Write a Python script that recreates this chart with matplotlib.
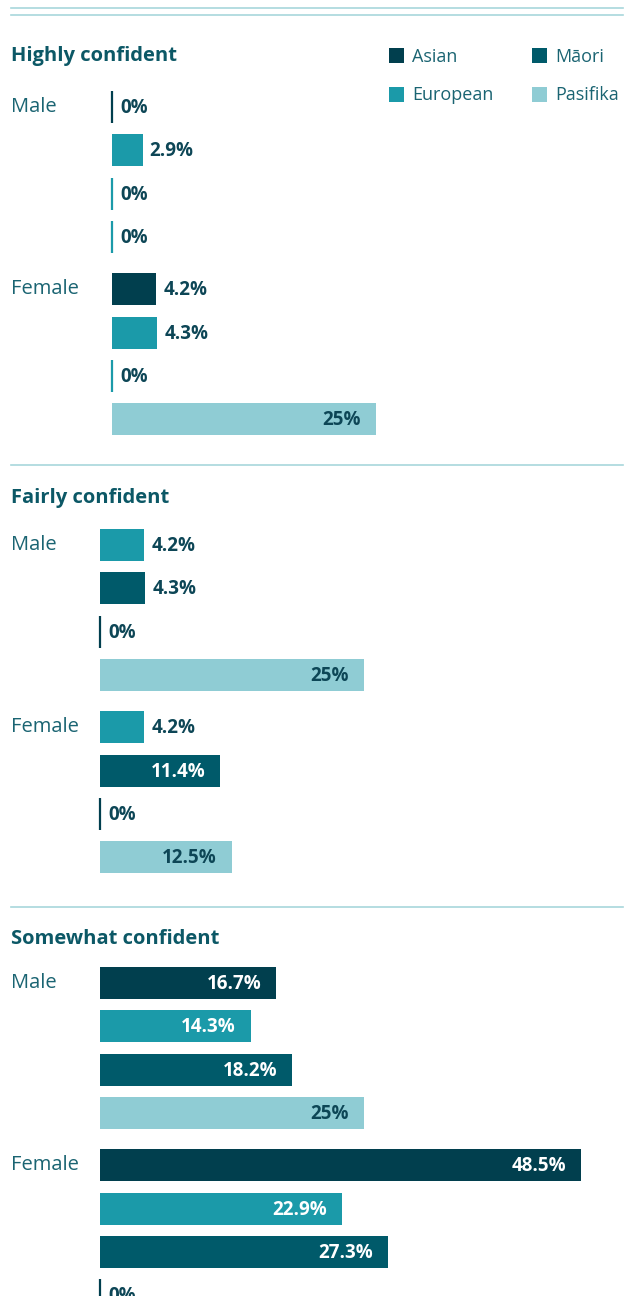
import matplotlib
matplotlib.use("Agg")
import matplotlib.pyplot as plt
from matplotlib.patches import Rectangle
from matplotlib.lines import Line2D
import matplotlib.transforms as mtransforms

# ---------------- data ----------------
sections = ["Highly confident", "Fairly confident", "Somewhat confident"]
genders = ["Male", "Female"]
ethnicities = ["Asian", "Māori", "European", "Pasifika"]  # legend order (2 columns)

highly_male_groups = ["Asian", "European", "European", "European"]
highly_male_values = [0, 2.9, 0, 0]
highly_female_groups = ["Asian", "European", "European", "Pasifika"]
highly_female_values = [4.2, 4.3, 0, 25]

fairly_male_groups = ["European", "Māori", "Asian", "Pasifika"]
fairly_male_values = [4.2, 4.3, 0, 25]
fairly_female_groups = ["European", "Māori", "Asian", "Pasifika"]
fairly_female_values = [4.2, 11.4, 0, 12.5]

somewhat_male_groups = ["Asian", "European", "Māori", "Pasifika"]
somewhat_male_values = [16.7, 14.3, 18.2, 25]
somewhat_female_groups = ["Asian", "European", "Māori", "Asian"]
somewhat_female_values = [48.5, 22.9, 27.3, 0]

section_data = [
    [(highly_male_groups, highly_male_values), (highly_female_groups, highly_female_values)],
    [(fairly_male_groups, fairly_male_values), (fairly_female_groups, fairly_female_values)],
    [(somewhat_male_groups, somewhat_male_values), (somewhat_female_groups, somewhat_female_values)],
]

# ---------------- style ----------------
colors = {"Asian": "#013f4e", "European": "#1b9aa9", "Māori": "#005a6a", "Pasifika": "#8fccd4"}
inside_text = {"Asian": "white", "European": "white", "Māori": "white", "Pasifika": "#0d4656"}
label_dark = "#0d4656"
title_color = "#0c5866"
gender_color = "#1a6472"
rule_color = "#a8d7db"

plt.rcParams["font.family"] = ["Open Sans", "DejaVu Sans"]

W, H = 635, 1296
fig = plt.figure(figsize=(W / 100, H / 100), dpi=100)


def fx(x):
    return x / W


def fy(y):
    return 1 - y / H


# top double rule
for yy in (8, 15):
    fig.add_artist(Line2D([fx(11), fx(623)], [fy(yy), fy(yy)], color=rule_color, lw=1.2,
                          transform=fig.transFigure))

# legend
legend_pos = {"Asian": (389, 55), "Māori": (532, 55), "European": (389, 94), "Pasifika": (532, 94)}
for eth in ethnicities:
    lx, ly = legend_pos[eth]
    fig.add_artist(Rectangle((fx(lx), fy(ly + 8)), 15 / W, 15 / H, facecolor=colors[eth],
                             edgecolor="none", transform=fig.transFigure))
    fig.text(fx(lx + 23), fy(ly + 1.5), eth, ha="left", va="center", fontsize=13,
             color=gender_color)

# layout
px_per_pct = 10.56
slot = 43.4
female_offset = 4.2
bar_h = 32 / slot
title_y = [56.5, 497.5, 938.5]
first_bar_y = [107, 545, 983]
bar_x0 = [112, 100, 100]
rule_y = [None, 465, 907]
axis_w_px = 481
xmax = axis_w_px / px_per_pct
ylo, yhi = -0.6, 7.8
value_fs = 13.5

for s, name in enumerate(sections):
    if rule_y[s] is not None:
        fig.add_artist(Line2D([fx(11), fx(623)], [fy(rule_y[s]), fy(rule_y[s])],
                              color=rule_color, lw=1.2, transform=fig.transFigure))
    fig.text(fx(11), fy(title_y[s]), name, ha="left", va="center", fontsize=14.5,
             fontweight="bold", color=title_color)

    top_px = first_bar_y[s] + ylo * slot
    h_px = (yhi - ylo) * slot
    ax = fig.add_axes([fx(bar_x0[s]), fy(top_px + h_px), axis_w_px / W, h_px / H])
    ax.set_xlim(0, xmax)
    ax.set_ylim(yhi, ylo)
    ax.axis("off")

    for g, (groups, values) in enumerate(section_data[s]):
        base = g * female_offset
        ypos = [base + i for i in range(len(values))]
        for yv, grp, val in zip(ypos, groups, values):
            c = colors[grp]
            if val == 0:
                ax.barh(yv, 0, height=bar_h, left=0, color=c, edgecolor=c, linewidth=1.6,
                        clip_on=False)
            else:
                ax.barh(yv, val, height=bar_h, left=0, color=c, edgecolor="none")
            lbl = f"{val:g}%"
            if val >= 8:
                xe = min(val, xmax)
                tr = mtransforms.offset_copy(ax.transData, fig=fig, x=-15 * 0.72, y=0,
                                             units="points")
                ax.text(xe, yv + 0.02, lbl, ha="right", va="center", fontsize=value_fs,
                        fontweight="bold", color=inside_text[grp], transform=tr)
            else:
                off = 7 if val > 0 else 8
                tr = mtransforms.offset_copy(ax.transData, fig=fig, x=off * 0.72, y=0,
                                             units="points")
                ax.text(val, yv + 0.02, lbl, ha="left", va="center", fontsize=value_fs,
                        fontweight="bold", color=label_dark, transform=tr)
        fig.text(fx(11), fy(first_bar_y[s] + base * slot), genders[g], ha="left",
                 va="center", fontsize=14.5, color=gender_color)

fig.savefig("out.png", dpi=100)
